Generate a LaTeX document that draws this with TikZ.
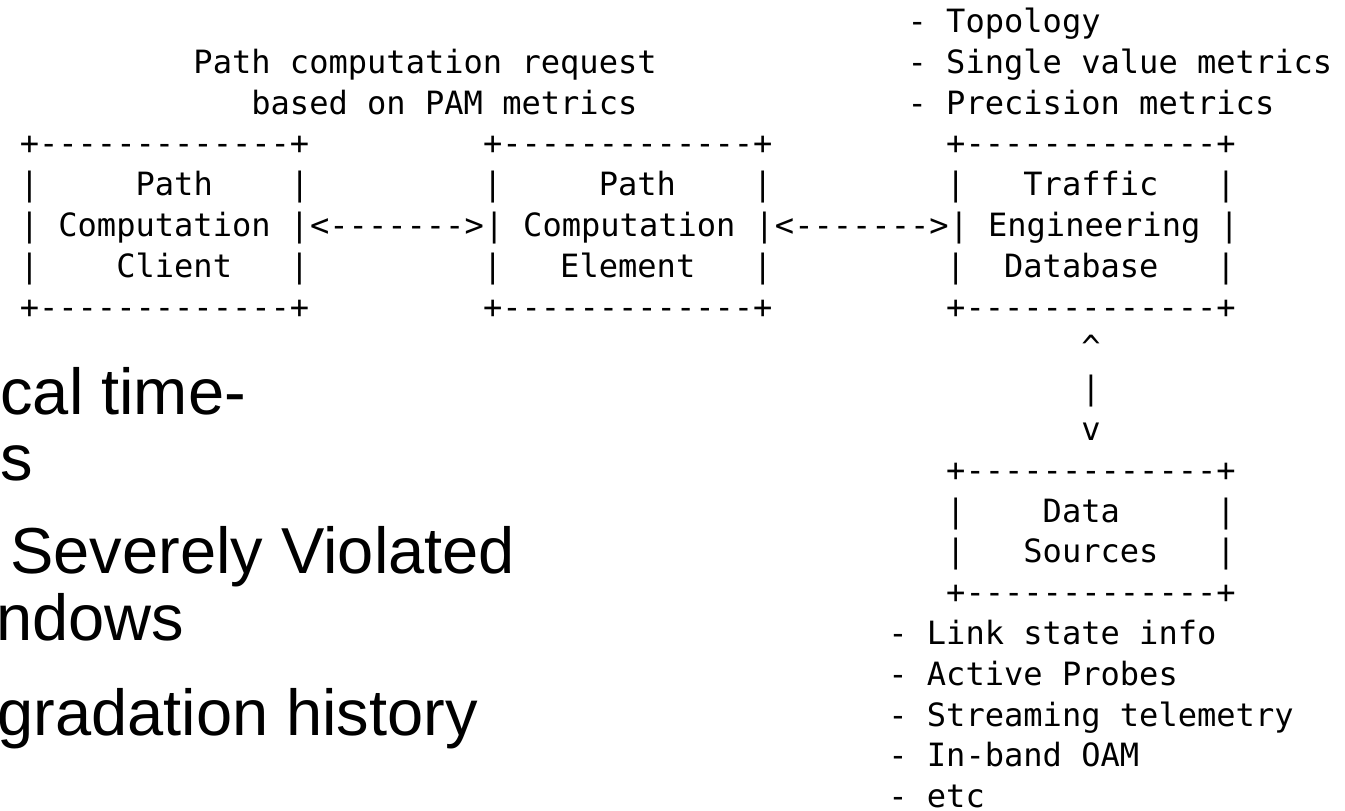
\documentclass[tikz,border=0pt]{standalone}
\usepackage{fontspec}
\setmonofont{DejaVu Sans Mono}
\setsansfont{Liberation Sans}
\tikzset{
  mono/.style={anchor=base west, inner sep=0pt, font=\ttfamily\fontsize{16.03pt}{20.4pt}\selectfont},
  slide/.style={anchor=base west, inner sep=0pt, font=\sffamily\fontsize{32.5pt}{39pt}\selectfont},
}
\newcommand{\boxrule}{+-------------+}
\begin{document}
\begin{tikzpicture}[x=9.65pt,y=-20.4pt]
\useasboundingbox (0,0) rectangle (69.689,19.877);
% slide text, cut at the left edge
\node[slide] (slideA) at (0,10.17) {cal time-};
\node[slide] (slideB) at (0,11.765) {s};
\node[slide] (slideC) at (0.518,14.044) {Severely Violated};
\node[slide] (slideD) at (-0.21,15.686) {ndows};
\node[slide] (slideE) at (-0.155,18.015) {gradation history};
% request text
\node[mono] (req1) at (10.005,1.797) {Path computation request};
\node[mono] (req2) at (13.005,2.797) {based on PAM metrics};
% TED inputs
\node[mono] (tedIn0) at (47.005,0.797) {- Topology};
\node[mono] (tedIn1) at (47.005,1.797) {- Single value metrics};
\node[mono] (tedIn2) at (47.005,2.797) {- Precision metrics};
% Path Computation Client
\node[mono] (pccTop) at (1.005,3.797) {\boxrule};
\node[mono] (pcc1) at (1.005,4.797) {|~~~~~Path~~~~|};
\node[mono] (pcc2) at (1.005,5.797) {|~Computation~|};
\node[mono] (pcc3) at (1.005,6.797) {|~~~~Client~~~|};
\node[mono] (pccBot) at (1.005,7.797) {\boxrule};
% Path Computation Element
\node[mono] (pceTop) at (25.005,3.797) {\boxrule};
\node[mono] (pce1) at (25.005,4.797) {|~~~~~Path~~~~|};
\node[mono] (pce3) at (25.005,6.797) {|~~~Element~~~|};
\node[mono] (pceBot) at (25.005,7.797) {\boxrule};
% Traffic Engineering Database
\node[mono] (tedTop) at (49.005,3.797) {\boxrule};
\node[mono] (ted1) at (49.005,4.797) {|~~~Traffic~~~|};
\node[mono] (ted3) at (49.005,6.797) {|~~Database~~~|};
\node[mono] (tedBot) at (49.005,7.797) {\boxrule};
% middle row with the links
\node[mono] (pcc2pce) at (pcc2.base east) {<------->};
\node[mono] (pce2) at (pcc2pce.base east) {|~Computation~|};
\node[mono] (pce2ted) at (pce2.base east) {<------->};
\node[mono] (ted2) at (pce2ted.base east) {|~Engineering~|};
% link down to the data sources
\node[mono] (upTip) at (56.005,8.797) {\textasciicircum};
\node[mono] (upBar) at (56.005,9.797) {|};
\node[mono] (downTip) at (56.005,10.797) {v};
% Data Sources
\node[mono] (dsTop) at (49.005,11.797) {\boxrule};
\node[mono] (ds1) at (49.005,12.797) {|~~~~Data~~~~~|};
\node[mono] (ds2) at (49.005,13.797) {|~~~Sources~~~|};
\node[mono] (dsBot) at (49.005,14.797) {\boxrule};
% data source kinds
\foreach \r/\t in {15/Link state info, 16/Active Probes, 17/Streaming telemetry, 18/In-band OAM, 19/etc}
  \node[mono] (dsIn\r) at (46.005,\r+0.797) {- \t};
\end{tikzpicture}
\end{document}
